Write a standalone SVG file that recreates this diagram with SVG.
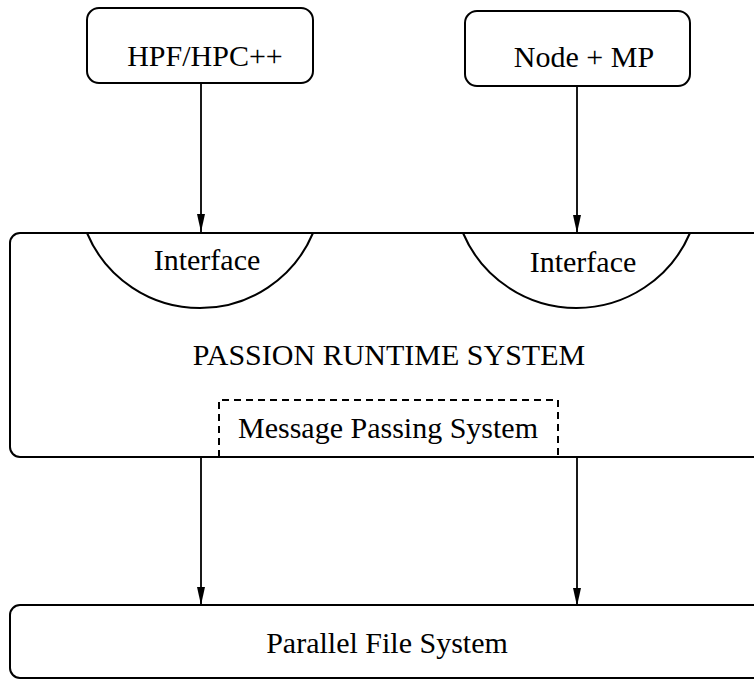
<svg xmlns="http://www.w3.org/2000/svg" width="754" height="681" viewBox="0 0 754 681">
<style>
.box{fill:none;stroke:#000;stroke-width:2}
.dash{fill:none;stroke:#000;stroke-width:2;stroke-dasharray:7 5}
.edge{fill:none;stroke:#000;stroke-width:1.8}
text{font-family:"Liberation Serif","Times New Roman",serif;font-size:30px;fill:#000;text-anchor:middle}
</style>
<defs>
<marker id="ah" markerUnits="userSpaceOnUse" markerWidth="10" markerHeight="18" viewBox="0 0 10 18" refX="5" refY="18" orient="auto-start-reverse">
<path d="M0,0 L5,18 L10,0 L5,3 Z" fill="#000" transform="rotate(0)"/>
</marker>
<marker id="arr" markerUnits="userSpaceOnUse" markerWidth="18" markerHeight="10" viewBox="0 0 18 10" refX="18" refY="5" orient="auto">
<path d="M0,1 L18,5 L0,9 Z" fill="#000"/>
</marker>
</defs>
<g id="connectors">
<line class="edge" x1="201" y1="83" x2="201" y2="232" marker-end="url(#arr)"/>
<line class="edge" x1="577" y1="86" x2="577" y2="233" marker-end="url(#arr)"/>
<line class="edge" x1="201" y1="457" x2="201" y2="605" marker-end="url(#arr)"/>
<line class="edge" x1="577" y1="457" x2="577" y2="606" marker-end="url(#arr)"/>
</g>
<g id="hpf">
<rect class="box" x="87" y="8" width="226" height="75" rx="12"/>
<text x="205" y="66">HPF/HPC++</text>
</g>
<g id="nodemp">
<rect class="box" x="465" y="11" width="225" height="75" rx="12"/>
<text x="584" y="67">Node + MP</text>
</g>
<g id="runtime">
<rect class="box" x="10" y="233" width="800" height="224" rx="10"/>
<text x="389" y="365">PASSION RUNTIME SYSTEM</text>
</g>
<g id="interface1">
<path class="box" d="M87,233 A122.6,122.6 0 0 0 313,233"/>
<text x="207" y="270">Interface</text>
</g>
<g id="interface2">
<path class="box" d="M463,233 A123.4,123.4 0 0 0 690,233"/>
<text x="583" y="272">Interface</text>
</g>
<g id="mps">
<path class="dash" d="M219,457 L219,400 L558,400 L558,457"/>
<text x="388" y="438">Message Passing System</text>
</g>
<g id="pfs">
<rect class="box" x="10" y="605" width="800" height="73" rx="10"/>
<text x="387" y="653">Parallel File System</text>
</g>
</svg>
